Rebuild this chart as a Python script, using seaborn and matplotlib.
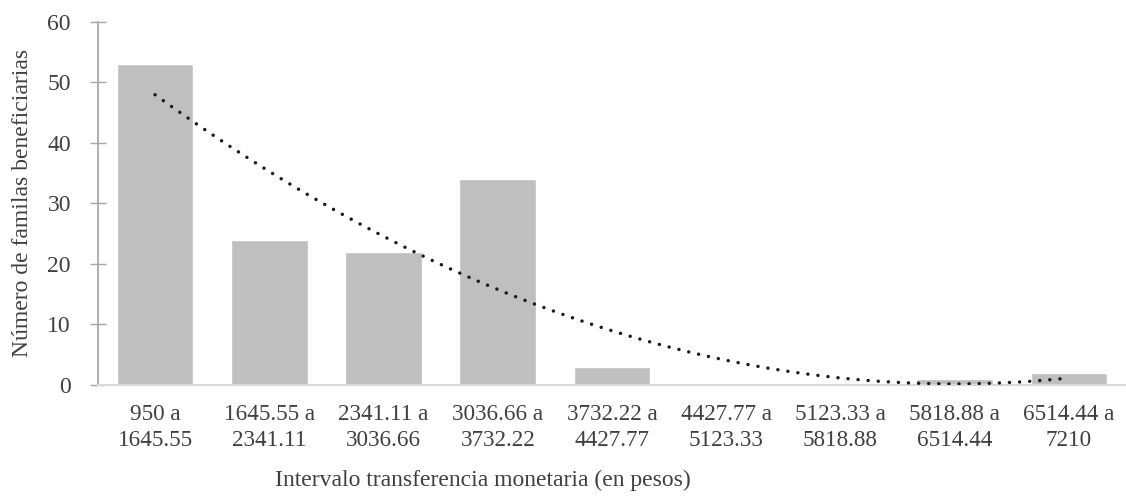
import numpy as np
import pandas as pd
import matplotlib
matplotlib.use("Agg")
import matplotlib.pyplot as plt
import seaborn as sns

categories = ["950 a\n1645.55", "1645.55 a\n2341.11", "2341.11 a\n3036.66", "3036.66 a\n3732.22",
              "3732.22 a\n4427.77", "4427.77 a\n5123.33", "5123.33 a\n5818.88", "5818.88 a\n6514.44",
              "6514.44 a\n7210"]
values = [53, 24, 22, 34, 3, 0, 0, 1, 2]
y_ticks = [0, 10, 20, 30, 40, 50, 60]

sns.set_theme(style="white")
plt.rcParams['font.family'] = ['Liberation Serif', 'DejaVu Serif']

fig = plt.figure(figsize=(11.26, 4.96), dpi=100)
ax = fig.add_axes([0.087, 0.224, 0.913, 0.732])

df = pd.DataFrame({"cat": categories, "val": values})
sns.barplot(data=df, x="cat", y="val", color="#bfbfbf", saturation=1, width=0.67, ax=ax)

# polynomial (order 2) trendline from bar values
x = np.arange(1, len(values) + 1)
coef = np.polyfit(x, values, 2)
xs = np.linspace(1, len(values), 200)
ys = np.polyval(coef, xs)
ax.plot(xs - 1, ys, color="#1a1a1a", linewidth=2.5, linestyle=(0, (0.01, 2.9)),
        dash_capstyle="round", zorder=3)

ax.set_ylim(0, 60)
ax.set_xlim(-0.5, len(values) - 0.5)
ax.set_yticks(y_ticks)
ax.tick_params(axis="y", direction="inout", length=11, width=1, color="#a6a6a6",
               labelsize=17, labelcolor="#404040", pad=14, left=True)
ax.tick_params(axis="x", length=0, labelsize=16.7, labelcolor="#404040", pad=14)
for lbl in ax.get_xticklabels():
    lbl.set_linespacing(1.28)

for s in ["top", "right"]:
    ax.spines[s].set_visible(False)
ax.spines["left"].set_color("#a6a6a6")
ax.spines["bottom"].set_color("#d9d9d9")
ax.spines["bottom"].set_linewidth(1.5)

ax.set_xlabel("Intervalo transferencia monetaria (en pesos)", fontsize=17, color="#404040")
ax.xaxis.set_label_coords(0.3745, -0.235)
ax.set_ylabel("Número de familas beneficiarias", fontsize=17, color="#404040", labelpad=10)

fig.savefig("out.png", dpi=100)
